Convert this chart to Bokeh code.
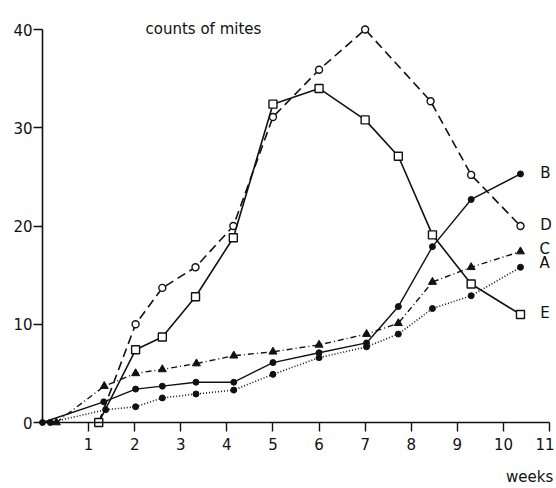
from bokeh.plotting import figure
from bokeh.models import Range1d, FixedTicker, Label, ColumnDataSource
from bokeh.core.properties import value
from bokeh.embed import file_html
from bokeh.resources import INLINE

# ---- data ----
x_ticks = [1, 2, 3, 4, 5, 6, 7, 8, 9, 10, 11]
y_ticks = [0, 10, 20, 30, 40]

weeks_a = [0.17, 1.37, 2.02, 2.6, 3.33, 4.15, 5.0, 6.0, 7.03, 7.72, 8.46, 9.3, 10.37]
count_a = [0, 1.3, 1.6, 2.5, 2.9, 3.3, 4.9, 6.6, 7.7, 9.0, 11.6, 12.9, 15.8]

weeks_b = [0.0, 1.33, 2.02, 2.6, 3.33, 4.15, 5.0, 6.0, 7.03, 7.72, 8.46, 9.3, 10.37]
count_b = [0, 2.1, 3.4, 3.7, 4.1, 4.1, 6.1, 7.1, 8.1, 11.8, 17.9, 22.7, 25.3]

weeks_c = [0.3, 1.34, 2.02, 2.6, 3.34, 4.15, 5.0, 6.0, 7.03, 7.72, 8.46, 9.3, 10.37]
count_c = [0, 3.7, 5.0, 5.4, 6.0, 6.8, 7.2, 7.9, 9.0, 10.1, 14.3, 15.8, 17.4]

weeks_d = [1.22, 2.02, 2.6, 3.32, 4.14, 5.0, 6.0, 7.0, 8.42, 9.3, 10.37]
count_d = [0, 10.0, 13.7, 15.8, 20.0, 31.1, 35.9, 40.0, 32.7, 25.2, 20.0]

weeks_e = [1.22, 2.02, 2.6, 3.32, 4.14, 5.0, 6.0, 7.0, 7.72, 8.46, 9.3, 10.37]
count_e = [0, 7.4, 8.7, 12.8, 18.8, 32.4, 34.0, 30.8, 27.1, 19.1, 14.1, 11.0]

series_names = ["B", "D", "C", "A", "E"]
series_label_y = [25.4, 20.1, 17.7, 16.2, 11.1]
series_label_x = [10.8, 10.8, 10.78, 10.78, 10.8]

title_text = "counts of mites"
x_title = "weeks"

INK = "#111111"
FONT = "DejaVu Sans"

p = figure(width=554, height=486, output_backend="svg", toolbar_location=None,
           title=None,
           x_range=Range1d(-0.911, 11.108), y_range=Range1d(-6.514, 42.952),
           min_border_left=0, min_border_right=0, min_border_top=0,
           min_border_bottom=0)
p.background_fill_color = "white"
p.border_fill_color = "white"
p.outline_line_color = None
p.grid.visible = False

for ax, ticks, bnds in ((p.xaxis, x_ticks, (0, 11)), (p.yaxis, y_ticks, (0, 40))):
    ax.fixed_location = 0
    ax.ticker = FixedTicker(ticks=ticks)
    ax.bounds = bnds
    ax.axis_line_color = INK
    ax.axis_line_width = 1.6
    ax.major_tick_line_color = INK
    ax.major_tick_line_width = 1.4
    ax.major_tick_in = 0
    ax.major_tick_out = 9
    ax.minor_tick_line_color = None
    ax.major_label_text_font = FONT
    ax.major_label_text_font_size = "15px"
    ax.major_label_text_color = INK

p.xaxis.major_label_standoff = 6
p.yaxis.major_label_standoff = 1

# A: dotted, filled dots
p.line(weeks_a, count_a, line_color=INK, line_width=1.6, line_dash="1 2")
p.scatter(weeks_a, count_a, marker="circle", size=6, color=INK)
# B: solid, filled dots
p.line(weeks_b, count_b, line_color=INK, line_width=1.4)
p.scatter(weeks_b, count_b, marker="circle", size=6, color=INK)
# C: dash-dot, filled triangles
p.line(weeks_c, count_c, line_color=INK, line_width=1.4, line_dash="6 3 1 3")
p.scatter(weeks_c, count_c, marker="triangle", size=8, color=INK)
# D: dashed, open circles
p.line(weeks_d, count_d, line_color=INK, line_width=1.6, line_dash="9 5")
p.scatter(weeks_d[1:], count_d[1:], marker="circle", size=7, line_color=INK,
          line_width=1.4, fill_color="white")
# E: solid, open squares
p.line(weeks_e, count_e, line_color=INK, line_width=1.6)
p.scatter(weeks_e, count_e, marker="square", size=8, line_color=INK,
          line_width=1.4, fill_color="white")

src = ColumnDataSource(dict(x=series_label_x, y=series_label_y, t=series_names))
p.text(x="x", y="y", text="t", source=src, text_font=value(FONT),
       text_font_size="15px", text_color=INK, text_align="left",
       text_baseline="middle")

p.add_layout(Label(x=2.235, y=40.1, text=title_text, text_font=FONT,
                   text_font_size="15px", text_color=INK,
                   text_align="left", text_baseline="alphabetic"))
p.add_layout(Label(x=11.08, y=-5.5, text=x_title, text_font=FONT,
                   text_font_size="15px", text_color=INK,
                   text_align="right", text_baseline="alphabetic"))

open("out.html", "w").write(file_html(p, INLINE))
